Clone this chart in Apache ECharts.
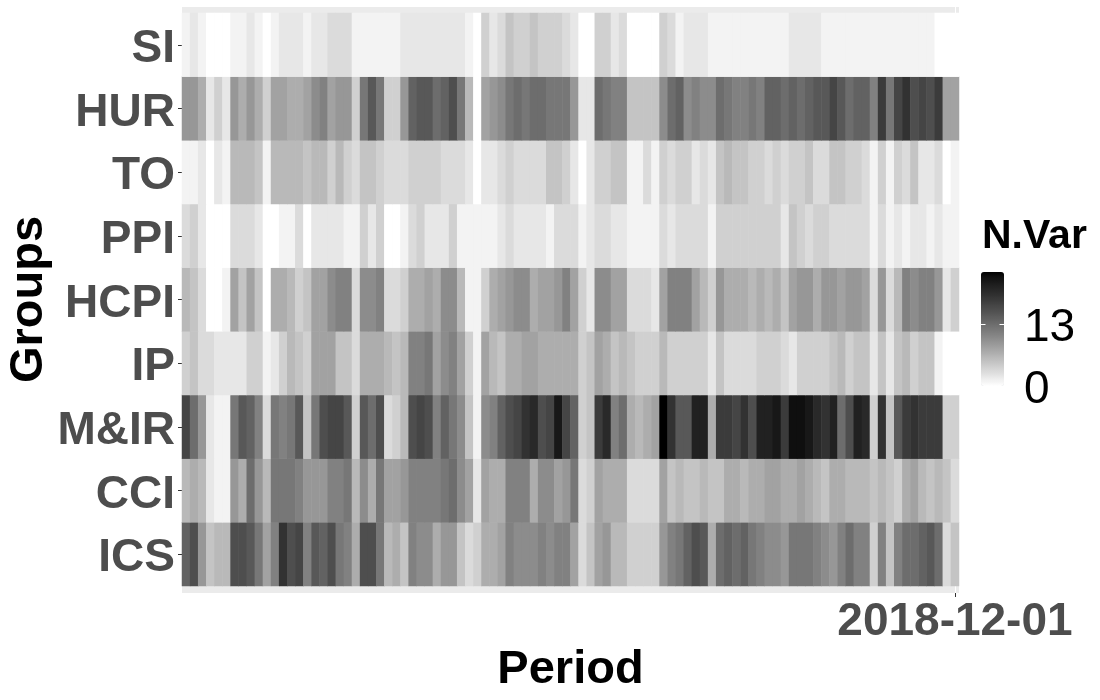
<!DOCTYPE html>
<html>
<head>
<meta charset="utf-8">
<style>html,body{margin:0;padding:0;background:#fff}#c{width:1100px;height:700px}</style>
<script src="https://cdn.jsdelivr.net/npm/echarts@6/dist/echarts.min.js"></script>
</head>
<body>
<div id="c"></div>
<script>
const groups = ['ICS','CCI','M&IR','IP','HCPI','PPI','TO','HUR','SI'];
const lastPeriod = '2018-12-01';
const legendTicks = [0, 13];
const maxVar = 24;

const SI = [1,2,1,0,0,0,1,1,2,1,0,1, 2,2,2,1,2,2,3,3,3,1,1,1, 1,1,1,2,2,2,2,2,2,2,2,1, 0,4,2,3,5,4,4,5,4,4,4,3,
            2,0,0,4,4,2,3,0,0,0,0,4, 3,1,2,2,2,1,1,1,1,1,1,1, 1,1,1,2,2,2,2,1,1,1,1,1, 1,1,1,1,1,1,1,1,1,0,0,0];
const HUR = [9,9,7,2,4,2,9,7,9,7,4,8, 8,7,7,8,10,11,8,9,9,4,12,15, 12,4,4,9,14,15,15,13,14,16,12,6, 0,8,9,10,12,13,12,13,13,12,12,12,
            9,2,2,13,12,11,11,5,5,5,5,10, 13,14,10,11,10,10,13,12,11,11,12,11, 14,14,13,14,13,14,15,15,17,15,13,14, 14,11,18,12,17,19,16,17,16,18,8,8];
const TO = [1,1,2,0,2,1,6,6,6,5,1,6, 6,6,6,5,6,6,4,6,4,3,5,5, 4,3,3,3,4,4,4,4,3,3,3,2, 0,2,2,3,4,3,3,3,3,5,5,4,
            2,0,2,4,4,5,5,1,1,3,1,4, 3,4,4,2,3,2,5,6,5,5,4,4, 3,4,3,4,4,5,3,3,5,5,4,4, 3,1,4,1,4,3,5,2,2,3,0,1];
const PPI = [3,4,2,0,0,0,3,3,3,2,0,0, 1,1,3,0,2,2,2,2,1,1,4,2, 4,0,0,1,3,4,2,2,2,4,1,1, 1,1,1,2,3,2,2,2,2,1,3,3,
            3,1,2,3,3,2,2,1,1,1,1,3, 2,3,3,3,3,1,4,4,4,4,4,4, 4,4,2,5,4,3,4,4,3,3,3,3, 3,1,3,1,2,1,2,2,1,2,1,1];
const HCPI = [6,5,3,0,0,1,8,5,8,5,0,7, 7,6,4,5,8,8,10,11,11,3,10,10, 11,3,3,4,7,7,8,7,10,10,6,1, 1,4,7,8,9,10,10,7,8,8,9,11,
            8,4,2,10,10,8,8,3,3,3,2,8, 11,11,11,8,6,4,9,7,7,7,6,7, 6,7,5,8,9,9,7,9,9,8,9,9, 8,3,9,3,6,11,10,11,11,9,2,4];
const IP = [4,5,3,3,2,2,2,2,4,4,1,2, 4,6,5,4,8,8,8,5,5,3,7,7, 7,6,5,6,11,11,12,8,10,11,8,4, 1,8,6,5,7,7,8,8,7,7,7,7,
            7,4,5,8,7,5,6,5,4,4,4,6, 4,4,4,4,4,2,5,3,3,3,3,4, 4,4,3,2,4,4,4,4,5,6,4,5, 5,2,5,2,5,6,4,5,5,1,0,0];
const MIR = [17,13,9,2,1,1,12,15,14,11,3,12, 11,12,15,5,12,16,17,17,15,4,15,13, 16,3,4,6,16,17,16,11,14,12,10,5, 1,10,11,14,16,17,19,20,16,17,22,17,
            14,4,5,18,20,11,13,7,6,7,8,24, 19,15,15,21,21,7,18,18,17,19,16,21, 21,22,18,23,23,22,20,19,21,13,16,21, 20,4,19,5,15,18,19,18,18,18,4,4];
const CCI = [6,7,6,2,1,1,9,7,13,9,6,12, 12,12,11,9,9,9,11,11,12,6,10,7, 12,8,8,9,11,11,11,11,12,13,10,8, 2,8,7,7,11,11,11,7,10,10,8,9,
            12,3,4,8,7,7,7,3,3,3,3,8, 5,6,5,5,6,5,5,7,7,6,7,7, 8,8,7,7,8,7,6,5,7,7,6,6, 6,5,6,5,4,7,8,6,5,6,5,3];
const ICS = [14,16,9,5,6,6,16,16,15,12,8,11, 19,16,17,11,15,14,16,12,11,7,16,16, 12,6,7,5,11,10,10,7,9,9,5,3, 4,7,7,8,11,10,10,10,11,10,11,11,
            8,3,5,8,9,6,6,4,4,4,4,9, 11,12,14,16,15,7,13,14,13,14,12,11, 10,10,9,12,12,12,11,10,9,11,13,11, 11,4,11,5,11,13,13,14,15,13,3,5];

const rows = [ICS, CCI, MIR, IP, HCPI, PPI, TO, HUR, SI];
const nCols = SI.length;
const periods = SI.map((_, i) => i === nCols - 1 ? lastPeriod : 'p' + i);
const cells = [];
rows.forEach((r, y) => r.forEach((v, x) => cells.push([x, y, v])));

// Grey ramp linear in CIE L*, as white-to-black gradients are
function labGrey(v) {
  const L = 100 * (1 - v / maxVar);
  const Y = L > 8 ? Math.pow((L + 16) / 116, 3) : L / 903.3;
  const s = Y <= 0.0031308 ? 12.92 * Y : 1.055 * Math.pow(Y, 1 / 2.4) - 0.055;
  const g = Math.round(Math.min(1, s) * 255);
  return 'rgb(' + g + ',' + g + ',' + g + ')';
}
const ramp = [];
for (let v = 0; v <= maxVar; v++) ramp.push(labGrey(v));

const FONT = '"Liberation Sans", Arial, sans-serif';
const P = {l: 182, r: 959, t: 7, b: 593, it: 13, ib: 586};
const LG = {x: 981, y: 272, w: 23, h: 114};
const legY = v => LG.y + LG.h * (1 - v / maxVar);

const graphics = [
  {type: 'rect', z: -10, silent: true, shape: {x: P.l, y: P.t, width: P.r - P.l, height: P.b - P.t}, style: {fill: '#ebebeb'}},
  {type: 'rect', z: -9, silent: true, shape: {x: 955, y: P.t, width: 1, height: P.b - P.t}, style: {fill: '#ffffff'}},
  {type: 'text', left: 982, top: 216, z: 10, style: {text: 'N.Var', font: 'bold 41px ' + FONT, fill: '#000'}}
];
legendTicks.forEach(v => {
  const y = legY(v);
  graphics.push({type: 'text', z: 10, x: 1024, y: y + 4.5, style: {text: String(v), font: '46px ' + FONT, fill: '#000', textVerticalAlign: 'middle', verticalAlign: 'middle'}});
  if (v > 0) {
    graphics.push({type: 'rect', z: 10, shape: {x: LG.x, y: Math.round(y), width: 4.5, height: 1}, style: {fill: '#fff'}});
    graphics.push({type: 'rect', z: 10, shape: {x: LG.x + LG.w - 4.5, y: Math.round(y), width: 4.5, height: 1}, style: {fill: '#fff'}});
  }
});

const chart = echarts.init(document.getElementById('c'), null, {renderer: 'canvas'});
chart.setOption({
  animation: false,
  backgroundColor: '#fff',
  textStyle: {fontFamily: FONT},
  grid: {left: P.l, top: P.it, width: P.r - P.l, height: P.ib - P.it, containLabel: false, outerBoundsMode: 'none'},
  xAxis: {
    type: 'category', data: periods, offset: P.b - P.ib,
    name: 'Period', nameLocation: 'middle', nameGap: 54, nameMoveOverlap: false,
    nameTextStyle: {fontFamily: FONT, fontWeight: 'bold', fontSize: 47, color: '#000'},
    axisLine: {show: false},
    axisTick: {show: true, length: 4, alignWithLabel: true, interval: i => i === nCols - 1, lineStyle: {color: '#333', width: 1}},
    axisLabel: {show: true, interval: i => i === nCols - 1, margin: 6, fontFamily: FONT, fontWeight: 'bold', fontSize: 46, color: '#4d4d4d', hideOverlap: false},
    splitLine: {show: false}
  },
  yAxis: {
    type: 'category', data: groups,
    name: 'Groups', nameLocation: 'middle', nameRotate: 90, nameGap: 129, nameMoveOverlap: false,
    nameTextStyle: {fontFamily: FONT, fontWeight: 'bold', fontSize: 47, color: '#000'},
    axisLine: {show: false},
    axisTick: {show: true, length: 4, alignWithLabel: true, lineStyle: {color: '#333', width: 1}},
    axisLabel: {show: true, interval: 0, margin: 7, verticalAlign: 'top', lineHeight: 9, fontFamily: FONT, fontWeight: 'bold', fontSize: 46, color: '#4d4d4d'},
    splitLine: {show: false}
  },
  visualMap: {
    type: 'continuous', min: 0, max: maxVar, seriesIndex: 0, dimension: 2,
    orient: 'vertical', left: LG.x, top: LG.y, itemWidth: LG.w, itemHeight: LG.h,
    text: null, showLabel: false, calculable: false, hoverLink: false, padding: 0,
    inRange: {color: ramp}
  },
  series: [{
    type: 'heatmap', data: cells, silent: true,
    progressive: 0,
    itemStyle: {borderWidth: 0},
    emphasis: {disabled: true}
  }],
  graphic: graphics
});
</script>
</body>
</html>
